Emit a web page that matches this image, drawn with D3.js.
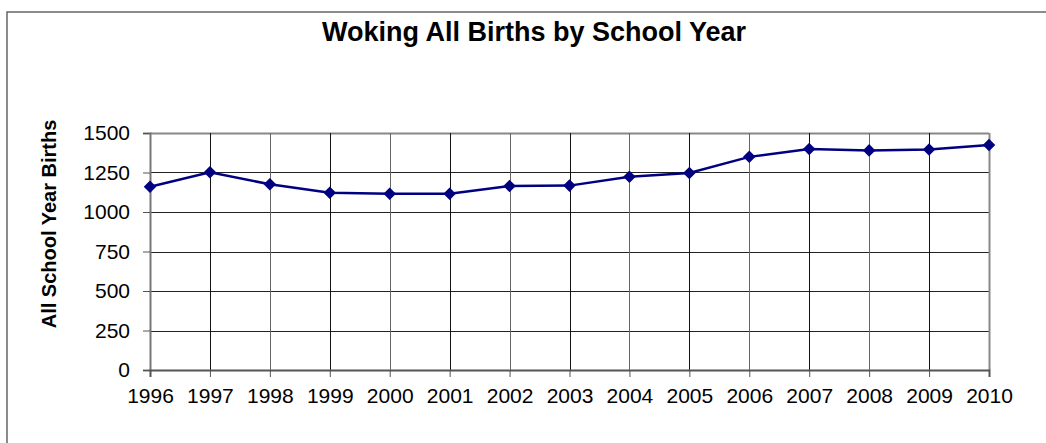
<!DOCTYPE html>
<html>
<head>
<meta charset="utf-8">
<script src="https://cdn.jsdelivr.net/npm/d3@7"></script>
<style>
  body { margin: 0; background: #fff; }
  text { font-family: "Liberation Sans", Arial, sans-serif; }
</style>
</head>
<body>
<div id="chart"></div>
<script>
var svgWidth = 1046;
var svgHeight = 443;

var margin = { top: 133, right: 57, bottom: 73, left: 150 };
var width = svgWidth - margin.left - margin.right;
var height = svgHeight - margin.top - margin.bottom;

// data
var years = [1996, 1997, 1998, 1999, 2000, 2001, 2002, 2003, 2004, 2005, 2006, 2007, 2008, 2009, 2010];
var births = [1160, 1252, 1175, 1122, 1115, 1115, 1165, 1167, 1223, 1247, 1349, 1399, 1390, 1396, 1424];
var yTicks = [0, 250, 500, 750, 1000, 1250, 1500];

var svg = d3.select("#chart")
  .append("svg")
  .attr("width", svgWidth)
  .attr("height", svgHeight);

// outer chart frame (runs off the right/bottom edge like the original)
svg.append("rect")
  .attr("x", 7)
  .attr("y", 12)
  .attr("width", svgWidth + 20)
  .attr("height", svgHeight + 20)
  .attr("fill", "none")
  .attr("stroke", "#666")
  .attr("stroke-width", 1.5);

svg.append("text")
  .attr("x", 534)
  .attr("y", 41)
  .attr("text-anchor", "middle")
  .attr("font-size", "27px")
  .attr("font-weight", "bold")
  .text("Woking All Births by School Year");

var chartGroup = svg.append("g")
  .attr("transform", `translate(${margin.left}, ${margin.top})`);

var xScale = d3.scalePoint()
  .domain(years)
  .range([0, width]);

var yScale = d3.scaleLinear()
  .domain([0, 1500])
  .range([height, 0]);

// horizontal gridlines
chartGroup.append("g")
  .selectAll("line")
  .data(yTicks.slice(1))
  .enter()
  .append("line")
  .attr("x1", 0)
  .attr("x2", width)
  .attr("y1", d => Math.round(yScale(d)) + 0.5)
  .attr("y2", d => Math.round(yScale(d)) + 0.5)
  .attr("stroke", d => d === 1500 ? "#888" : "#222")
  .attr("stroke-width", d => d === 1500 ? 2 : 1);

// vertical gridlines
chartGroup.append("g")
  .selectAll("line")
  .data(years.slice(1))
  .enter()
  .append("line")
  .attr("x1", d => Math.round(xScale(d)) + 0.5)
  .attr("x2", d => Math.round(xScale(d)) + 0.5)
  .attr("y1", 0)
  .attr("y2", height)
  .attr("stroke", (d, i) => d === 2010 ? "#888" : (i % 2 ? "#666" : "#111"))
  .attr("stroke-width", d => d === 2010 ? 2 : 1);

// y axis
var leftAxis = d3.axisLeft(yScale)
  .tickValues(yTicks)
  .tickFormat(d3.format("d"))
  .tickSize(7)
  .tickPadding(13);

var yAxis = chartGroup.append("g").call(leftAxis);
yAxis.select(".domain").attr("stroke", "#777").attr("stroke-width", 2);
yAxis.selectAll(".tick line").attr("stroke", "#555");
yAxis.selectAll("text")
  .attr("font-size", "21px")
  .attr("font-family", "Liberation Sans, Arial, sans-serif")
  .attr("fill", "#000");

// x axis
var bottomAxis = d3.axisBottom(xScale)
  .tickFormat(d3.format("d"))
  .tickSize(7)
  .tickPadding(11);

var xAxis = chartGroup.append("g")
  .attr("transform", `translate(0, ${height})`)
  .call(bottomAxis);
xAxis.select(".domain").attr("stroke", "#555").attr("stroke-width", 2);
xAxis.selectAll(".tick line").attr("stroke", "#555");
xAxis.selectAll("text")
  .attr("font-size", "21px")
  .attr("font-family", "Liberation Sans, Arial, sans-serif")
  .attr("fill", "#000");

// y axis label
svg.append("text")
  .attr("transform", "rotate(-90)")
  .attr("x", -224)
  .attr("y", 56)
  .attr("text-anchor", "middle")
  .attr("font-size", "20px")
  .attr("font-weight", "bold")
  .text("All School Year Births");

// the line
var line = d3.line()
  .x((d, i) => xScale(years[i]))
  .y(d => yScale(d));

chartGroup.append("path")
  .datum(births)
  .attr("fill", "none")
  .attr("stroke", "#000080")
  .attr("stroke-width", 2.5)
  .attr("d", line);

// diamond markers
chartGroup.selectAll(".marker")
  .data(births)
  .enter()
  .append("path")
  .attr("class", "marker")
  .attr("transform", (d, i) => `translate(${xScale(years[i])}, ${yScale(d)})`)
  .attr("d", d3.symbol().type(d3.symbolDiamond2).size(100))
  .attr("fill", "#000080");
</script>
</body>
</html>
